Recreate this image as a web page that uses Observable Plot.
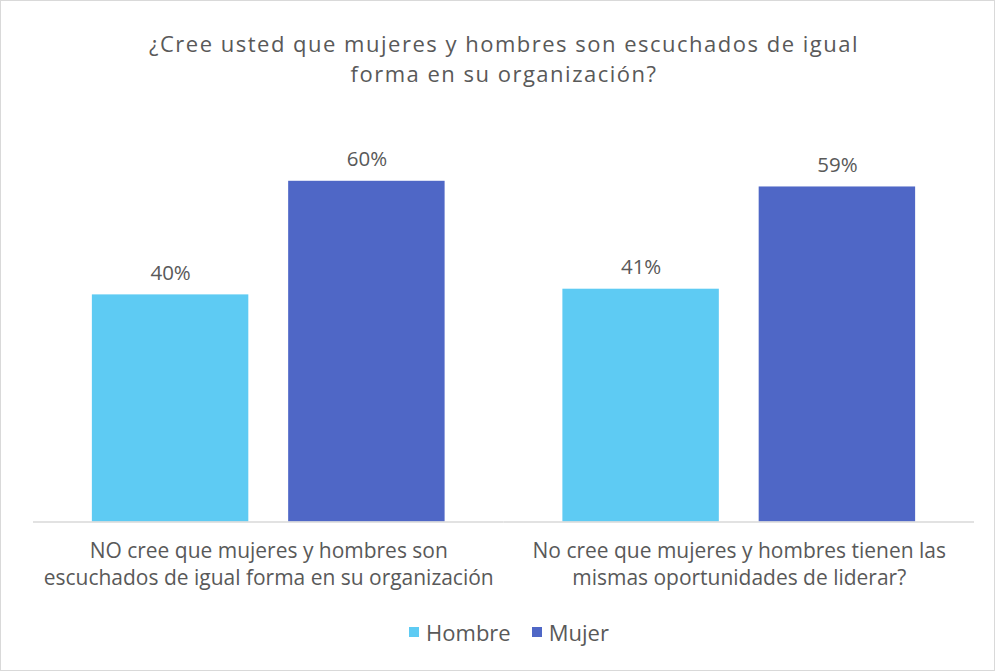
<!DOCTYPE html>
<html>
<head>
<meta charset="utf-8">
<script src="https://cdn.jsdelivr.net/npm/d3@7"></script>
<script src="https://cdn.jsdelivr.net/npm/@observablehq/plot@0.6"></script>
<style>
  html, body { margin: 0; padding: 0; background: #fff; }
  #wrap { position: relative; width: 995px; height: 671px; box-sizing: border-box; border: 1px solid #d9d9d9; overflow: hidden; font-family: "Open Sans", Lato, sans-serif; color: #595959; }
  #title { position: absolute; left: 0; top: 27px; width: 100%; padding-left: 13px; box-sizing: border-box; text-align: center; font-size: 22px; line-height: 30px; letter-spacing: 1.5px; color: #595959; }
  #chart { position: absolute; left: -1px; top: 109px; }
  #legend { position: absolute; left: 0; top: 616px; width: 100%; display: flex; justify-content: center; gap: 21px; font-size: 22px; line-height: 30px; color: #595959; padding-left: 23px; box-sizing: border-box; }
  #legend span.item { display: inline-flex; align-items: center; gap: 7px; }
  #legend i { display: inline-block; width: 10px; height: 10px; }
</style>
</head>
<body>
<div id="wrap">
  <div id="title">¿Cree usted que mujeres y hombres son escuchados de igual<br>forma en su organización?</div>
  <div id="chart"></div>
  <div id="legend"></div>
</div>
<script>
const categories = [
  "NO cree que mujeres y hombres son\nescuchados de igual forma en su organización",
  "No cree que mujeres y hombres tienen las\nmismas oportunidades de liderar?"
];
const series = ["Hombre", "Mujer"];
const hombreValues = [40, 41];
const mujerValues = [60, 59];
const colors = ["#5ECBF3", "#4F67C6"];

const data = [];
categories.forEach((c, i) => {
  data.push({category: c, series: "Hombre", value: hombreValues[i]});
  data.push({category: c, series: "Mujer", value: mujerValues[i]});
});

const chart = Plot.plot({
  width: 995,
  height: 500,
  marginLeft: 33,
  marginRight: 20,
  marginTop: 14,
  marginBottom: 88,
  style: {fontFamily: "'Open Sans', Lato, sans-serif", color: "#595959", background: "transparent"},
  fx: {domain: categories, paddingInner: 0, paddingOuter: 0, label: null},
  x: {domain: series, paddingInner: 0.203, paddingOuter: 0.3, round: false, axis: null},
  y: {domain: [0, 70], axis: null},
  color: {domain: series, range: colors},
  marks: [
    Plot.barY(data, {fx: "category", x: "series", y: "value", fill: "series"}),
    Plot.ruleY([0], {stroke: "#d9d9d9", strokeWidth: 1.5}),
    Plot.text(data, {fx: "category", x: "series", y: "value", text: d => d.value + "%", lineAnchor: "bottom", dy: -15, fontSize: 20.5, fill: "#595959"}),
    Plot.axisFx({anchor: "bottom", tickSize: 0, tickPadding: 17, fontSize: 21, label: null, lineHeight: 1.29, style: {letterSpacing: "0.3px"}})
  ]
});
document.getElementById("chart").appendChild(chart);

const legend = document.getElementById("legend");
series.forEach((s, i) => {
  const item = document.createElement("span");
  item.className = "item";
  const sw = document.createElement("i");
  sw.style.background = colors[i];
  item.appendChild(sw);
  item.appendChild(document.createTextNode(s));
  legend.appendChild(item);
});
</script>
</body>
</html>
